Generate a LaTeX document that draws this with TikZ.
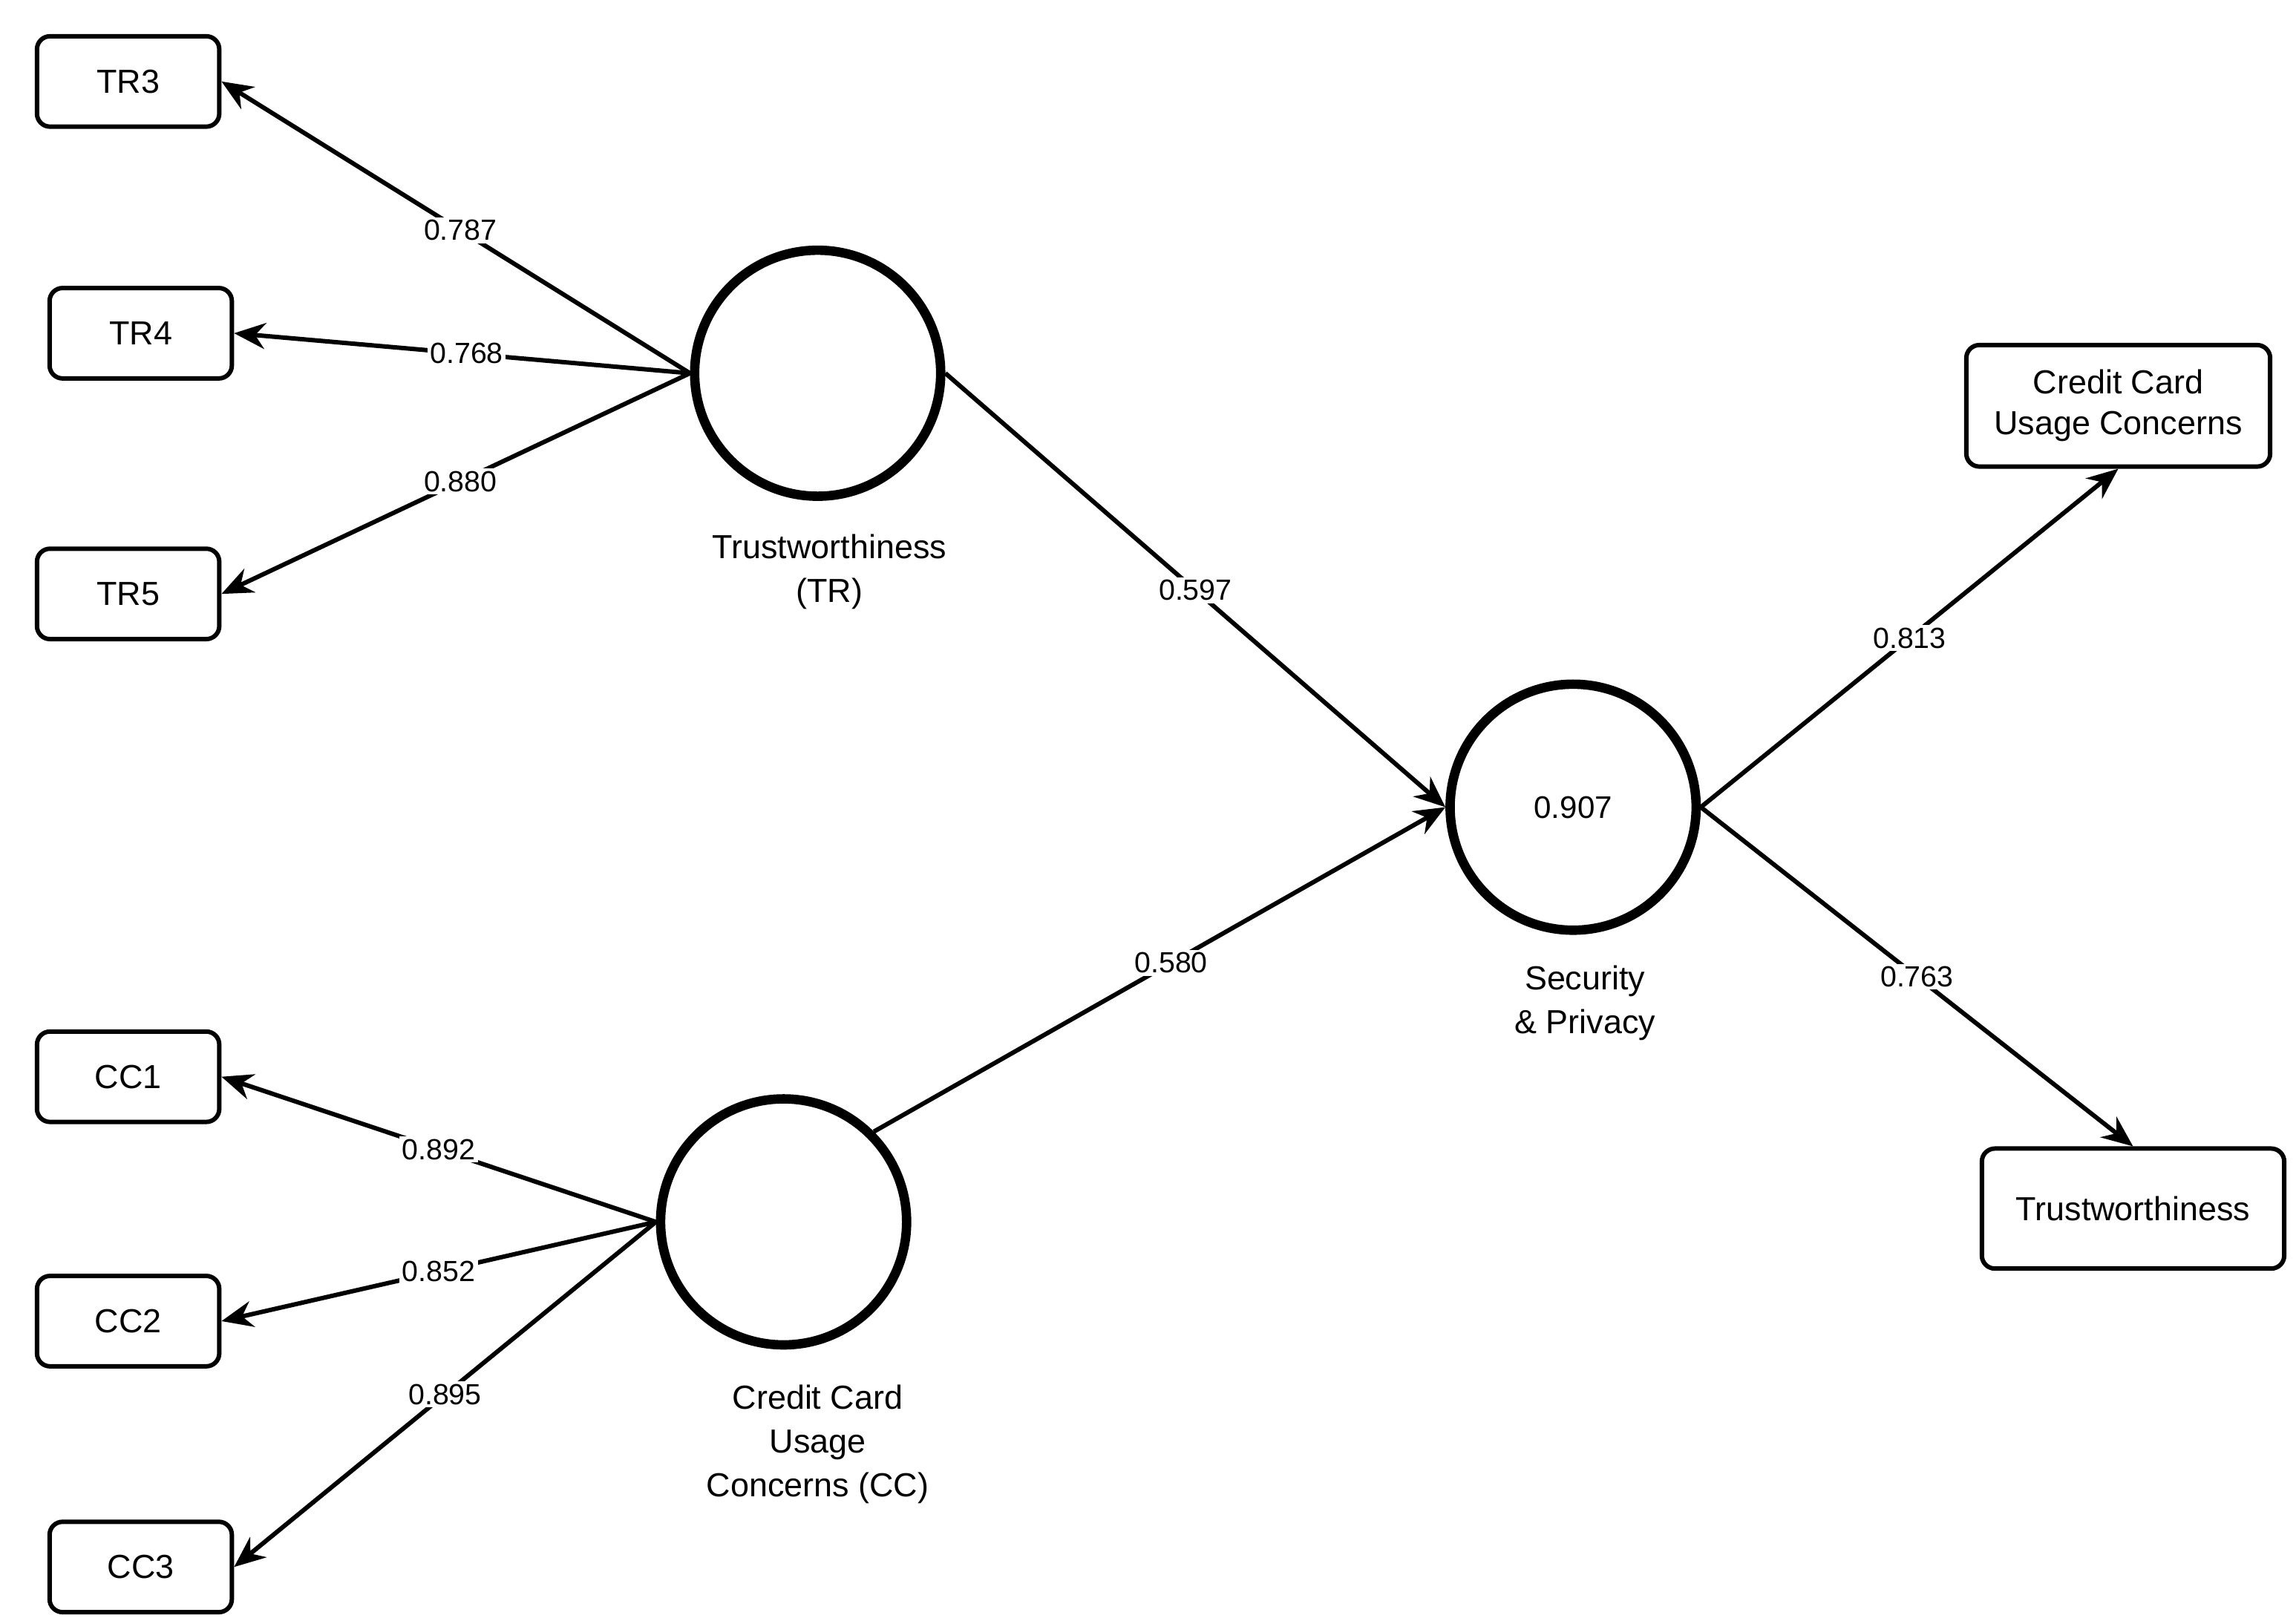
\documentclass[tikz,border=0pt]{standalone}
\usepackage{fontspec}
\setmainfont{Liberation Sans}
\usetikzlibrary{arrows.meta}

\begin{document}
\begin{tikzpicture}[x=0.01cm, y=-0.01cm, ->, >={Stealth[length=6pt,width=5pt]}, line width=0.85pt]
  \tikzset{item/.style = {draw, rounded corners=2.5pt, minimum width=1.23cm,
      minimum height=0.61cm, align=center, font=\fontsize{6.4}{7.8}\selectfont, -},
    latent/.style = {draw, circle, line width=1.8pt, minimum size=1.66cm,
      font=\fontsize{6}{7}\selectfont, -},
    caption/.style = {align=center, font=\fontsize{6.4}{8.4}\selectfont},
    weight/.style = {fill=white, inner sep=0.5pt, font=\fontsize{5.6}{6.5}\selectfont}}
  \useasboundingbox (0,0) rectangle (1550,1094);
  % latent variables
  \node [latent] at (552,252) (tr) {};
  \node [latent] at (529,825) (cc) {};
  \node [latent] at (1062,545) (sp) {0.907};
  \node [caption] at (560,386) {Trustworthiness\\(TR)};
  \node [caption] at (552,975) {Credit Card\\Usage\\Concerns (CC)};
  \node [caption] at (1070,677) {Security\\\& Privacy};
  % indicators
  \node [item] at (86.5,55) (tr3) {TR3};
  \node [item] at (95,225) (tr4) {TR4};
  \node [item] at (86.5,401) (tr5) {TR5};
  \node [item] at (86.5,727) (cc1) {CC1};
  \node [item] at (86.5,892) (cc2) {CC2};
  \node [item] at (95,1058) (cc3) {CC3};
  \node [item, minimum width=2.05cm, minimum height=0.82cm] at (1430,274) (ccuc) {Credit Card\\Usage Concerns};
  \node [item, minimum width=2.04cm, minimum height=0.81cm] at (1440,816) (trust) {Trustworthiness};
  % loadings
  \draw (tr.west) -- node[weight, pos=0.49] {0.787} (tr3.east);
  \draw (tr.west) -- node[weight, pos=0.49] {0.768} (tr4.east);
  \draw (tr.west) -- node[weight, pos=0.49] {0.880} (tr5.east);
  \draw (cc.west) -- node[weight, pos=0.5] {0.892} (cc1.east);
  \draw (cc.west) -- node[weight, pos=0.5] {0.852} (cc2.east);
  \draw (cc.west) -- node[weight, pos=0.5] {0.895} (cc3.east);
  % paths
  \draw (tr.east) -- node[weight] {0.597} (sp.west);
  \draw (cc.north east) -- node[weight, pos=0.52] {0.580} (sp.west);
  \draw (sp.east) -- node[weight, pos=0.5] {0.813} (ccuc.south);
  \draw (sp.east) -- node[weight, pos=0.5] {0.763} (trust.north);
\end{tikzpicture}
\end{document}
